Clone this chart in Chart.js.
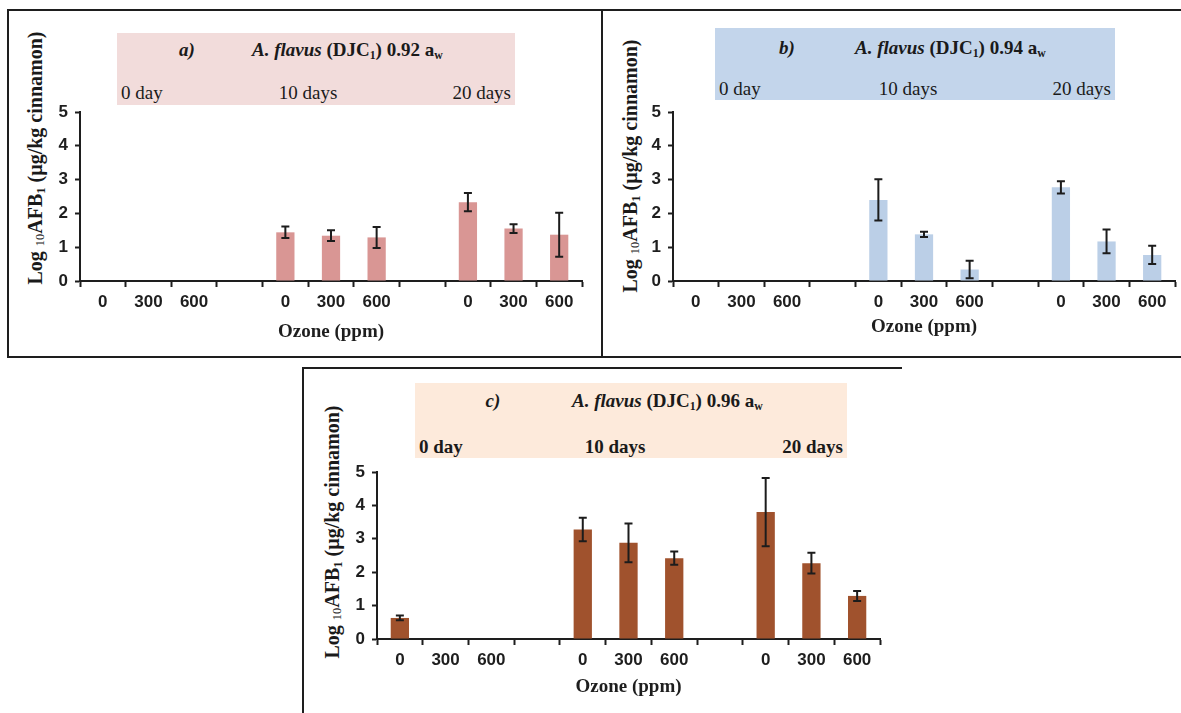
<!DOCTYPE html>
<html>
<head>
<meta charset="utf-8">
<script src="https://cdn.jsdelivr.net/npm/chart.js@4.4.0/dist/chart.umd.min.js"></script>
<style>
  body { margin: 0; background: #fff; width: 1181px; height: 713px; overflow: hidden; position: relative; font-family: "Liberation Serif", "Times New Roman", serif; color: #1a1a1a; }
  .frame { position: absolute; box-sizing: border-box; border: 2px solid #1e1e1e; }
  .box { position: absolute; }
  .box span { position: absolute; white-space: nowrap; transform: translateY(-50%); font-size: 19px; line-height: 1; }
  .ytitle { position: absolute; white-space: nowrap; font-family: "Liberation Serif", "Times New Roman", serif; font-weight: bold; font-size: 20px; line-height: 1; transform: translate(-50%, -50%) rotate(-90deg); }
  sub { font-size: 62%; vertical-align: -0.28em; line-height: 0; }
  .ytitle sub.ten { font-weight: normal; vertical-align: -0.2em; }
  canvas { position: absolute; }
</style>
</head>
<body>

<div class="frame" style="left:7px; top:9px; width:596px; height:349px;"></div>
<div class="frame" style="left:601px; top:9px; width:600px; height:349px; border-left:none;"></div>
<div class="frame" style="left:302px; top:367px; width:600px; height:400px; border-right:none; border-bottom:none;"></div>

<div id="panels"></div>

<script>
// x axis: ozone dose per storage day, empty slot between groups
const ozoneLabels = ['0', '300', '600', '', '0', '300', '600', '', '0', '300', '600'];
const dayLabels = ['0 day', '10 days', '20 days'];
const yTicks = [0, 1, 2, 3, 4, 5];

// a) 0.92 aw
const valuesA = [0, 0, 0, null, 1.44, 1.34, 1.29, null, 2.33, 1.55, 1.37];
const errorsA = [0, 0, 0, null, 0.17, 0.16, 0.31, null, 0.27, 0.13, 0.65];
// b) 0.94 aw
const valuesB = [0, 0, 0, null, 2.40, 1.38, 0.34, null, 2.77, 1.17, 0.77];
const errorsB = [0, 0, 0, null, 0.61, 0.08, 0.26, null, 0.18, 0.35, 0.27];
// c) 0.96 aw
const valuesC = [0.63, 0, 0, null, 3.28, 2.88, 2.42, null, 3.80, 2.27, 1.29];
const errorsC = [0.07, 0, 0, null, 0.35, 0.58, 0.20, null, 1.02, 0.31, 0.15];

const panels = [
    { tag: 'a)', aw: '0.92', values: valuesA, errors: errorsA, bar: '#d99694', boxColor: '#f2dcdb', boldDays: false,
      canvas: { left: 10, top: 100, width: 590, height: 254 }, area: { left: 80, top: 112, right: 582, bottom: 281 }, titleY: 332,
      box: { left: 117, top: 33, width: 398, height: 72, tagX: 70, titleX: 135, titleY: 16, daysY: 59, midX: 191 },
      ytitle: { x: 35, y: 158 } },
    { tag: 'b)', aw: '0.94', values: valuesB, errors: errorsB, bar: '#bbcfe7', boxColor: '#c3d5eb', boldDays: false,
      canvas: { left: 603, top: 100, width: 576, height: 252 }, area: { left: 673, top: 112, right: 1175, bottom: 281 }, titleY: 327,
      box: { left: 715, top: 28, width: 400, height: 72, tagX: 72, titleX: 140, titleY: 19, daysY: 60, midX: 193 },
      ytitle: { x: 630, y: 166 } },
    { tag: 'c)', aw: '0.96', values: valuesC, errors: errorsC, bar: '#a0522d', boxColor: '#fdeadb', boldDays: true,
      canvas: { left: 305, top: 460, width: 590, height: 250 }, area: { left: 377, top: 472, right: 880, bottom: 639 }, titleY: 687,
      box: { left: 415, top: 383, width: 432, height: 75, tagX: 78, titleX: 157, titleY: 17, daysY: 63, midX: 200 },
      ytitle: { x: 332, y: 532 } }
];

const errorBars = {
    id: 'errorBars',
    afterDatasetsDraw (chart) {
        const ctx = chart.ctx;
        const yScale = chart.scales.y;
        chart.data.datasets.forEach((ds, di) => {
            const meta = chart.getDatasetMeta(di);
            meta.data.forEach((bar, i) => {
                const v = ds.data[i];
                const e = ds.errors[i];
                if (v === null || !e) return;
                const top = yScale.getPixelForValue(v + e);
                const bottom = yScale.getPixelForValue(v - e);
                ctx.save();
                ctx.strokeStyle = '#1c1c1c';
                ctx.lineWidth = 2;
                ctx.beginPath();
                ctx.moveTo(bar.x, top);
                ctx.lineTo(bar.x, bottom);
                ctx.moveTo(bar.x - 4, top);
                ctx.lineTo(bar.x + 4, top);
                ctx.moveTo(bar.x - 4, bottom);
                ctx.lineTo(bar.x + 4, bottom);
                ctx.stroke();
                ctx.restore();
            });
        });
    }
};

const tickFont = { family: '"Liberation Sans", Arial, sans-serif', weight: 'bold', size: 17 };
const holder = document.getElementById('panels');

panels.forEach(p => {
    // header box with panel letter, strain, water activity and storage days
    const box = document.createElement('div');
    box.className = 'box';
    box.style.cssText = `left:${p.box.left}px; top:${p.box.top}px; width:${p.box.width}px; height:${p.box.height}px; background:${p.boxColor};`;
    const dw = p.boldDays ? 'bold' : 'normal';
    box.innerHTML =
        `<span style="left:${p.box.tagX}px; top:${p.box.titleY}px; font-weight:bold; font-style:italic; transform:translate(-50%,-50%)">${p.tag}</span>` +
        `<span style="left:${p.box.titleX}px; top:${p.box.titleY}px; font-weight:bold"><i>A. flavus</i> (DJC<sub>1</sub>) ${p.aw} a<sub>w</sub></span>` +
        `<span style="left:4px; top:${p.box.daysY}px; font-weight:${dw}">${dayLabels[0]}</span>` +
        `<span style="left:${p.box.midX}px; top:${p.box.daysY}px; font-weight:${dw}; transform:translate(-50%,-50%)">${dayLabels[1]}</span>` +
        `<span style="right:4px; top:${p.box.daysY}px; font-weight:${dw}">${dayLabels[2]}</span>`;
    holder.appendChild(box);

    const yt = document.createElement('div');
    yt.className = 'ytitle';
    yt.style.left = p.ytitle.x + 'px';
    yt.style.top = p.ytitle.y + 'px';
    yt.innerHTML = 'Log <sub class="ten">10</sub>AFB<sub>1</sub> (µg/kg cinnamon)';
    holder.appendChild(yt);

    const c = p.canvas;
    const canvas = document.createElement('canvas');
    canvas.width = c.width;
    canvas.height = c.height;
    canvas.style.left = c.left + 'px';
    canvas.style.top = c.top + 'px';
    holder.appendChild(canvas);

    const yWidth = p.area.left - c.left;
    const xHeight = c.top + c.height - p.area.bottom;
    const titleSize = 19;
    const titlePad = c.top + c.height - p.titleY - titleSize * 0.6;

    new Chart(canvas.getContext('2d'), {
        type: 'bar',
        data: {
            labels: ozoneLabels,
            datasets: [{
                data: p.values,
                errors: p.errors,
                backgroundColor: p.bar,
                borderWidth: 0,
                categoryPercentage: 1,
                barPercentage: 0.4
            }]
        },
        options: {
            responsive: false,
            devicePixelRatio: 1,
            animation: false,
            layout: { padding: { top: p.area.top - c.top, right: c.left + c.width - p.area.right, left: 0, bottom: 0 } },
            plugins: { legend: { display: false }, tooltip: { enabled: false } },
            scales: {
                x: {
                    offset: true,
                    grid: { display: true, offset: true, drawOnChartArea: false, drawTicks: true, tickLength: 6, tickColor: '#1e1e1e', tickWidth: 2 },
                    border: { display: true, color: '#1e1e1e', width: 2 },
                    ticks: { color: '#1e1e1e', font: tickFont, padding: 5, maxRotation: 0, autoSkip: false },
                    title: { display: true, text: 'Ozone (ppm)', color: '#1e1e1e', font: { family: '"Liberation Serif", "Times New Roman", serif', weight: 'bold', size: titleSize }, padding: { top: 0, bottom: titlePad } },
                    afterFit (scale) { scale.height = xHeight; scale.paddingLeft = 0; scale.paddingRight = 0; }
                },
                y: {
                    min: 0,
                    max: 5,
                    afterBuildTicks (scale) { scale.ticks = yTicks.map(v => ({ value: v })); },
                    grid: { display: true, drawOnChartArea: false, drawTicks: true, tickLength: 5, tickColor: '#1e1e1e', tickWidth: 2 },
                    border: { display: true, color: '#1e1e1e', width: 2 },
                    ticks: { color: '#1e1e1e', font: tickFont, padding: 7 },
                    afterFit (scale) { scale.width = yWidth; scale.paddingTop = 0; scale.paddingBottom = 0; }
                }
            }
        },
        plugins: [errorBars]
    });
});
</script>
</body>
</html>
